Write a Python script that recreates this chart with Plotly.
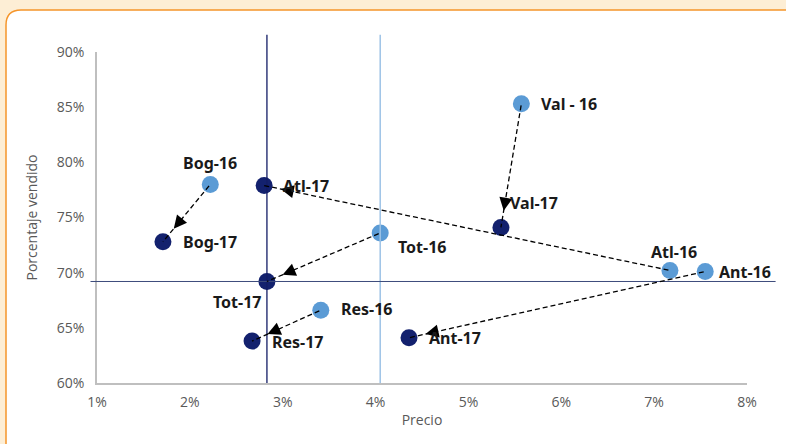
import plotly.graph_objects as go

# Regional price change vs. share of units sold, 2016 -> 2017
regions = ["Val", "Bog", "Atl", "Tot", "Res", "Ant"]
labels_16 = ["Val - 16", "Bog-16", "Atl-16", "Tot-16", "Res-16", "Ant-16"]
labels_17 = ["Val-17", "Bog-17", "Atl-17", "Tot-17", "Res-17", "Ant-17"]
price_16 = [5.57, 2.22, 7.17, 4.05, 3.41, 7.55]
sold_16 = [85.3, 78.0, 70.2, 73.6, 66.6, 70.1]
price_17 = [5.35, 1.71, 2.80, 2.83, 2.67, 4.36]
sold_17 = [74.1, 72.8, 77.9, 69.2, 63.8, 64.1]

x_ticks = [1, 2, 3, 4, 5, 6, 7, 8]
y_ticks = [60, 65, 70, 75, 80, 85, 90]

LIGHT = "#5b9bd5"
DARK = "#13216e"
LABEL_FONT = dict(family="'Noto Sans', Arial, sans-serif", size=16, color="#1a1a1a", weight="bold")

# label placement per region: (xanchor, xshift, yshift)
place_16 = {"Val": ("left", 18, 0), "Bog": ("center", 0, 21), "Atl": ("center", 4, 18),
            "Tot": ("left", 16, -14), "Res": ("left", 18, 1), "Ant": ("left", 12, 0)}
place_17 = {"Val": ("left", 7, 24), "Bog": ("left", 18, 0), "Atl": ("left", 17, 0),
            "Tot": ("right", -4, -21), "Res": ("left", 18, -1), "Ant": ("left", 18, 0)}

fig = go.Figure()

fig.add_trace(go.Scatter(x=price_16, y=sold_16, mode="markers", name="2016",
                         marker=dict(size=17, color=LIGHT, line=dict(width=0)),
                         hovertext=labels_16, cliponaxis=False))
fig.add_trace(go.Scatter(x=price_17, y=sold_17, mode="markers", name="2017",
                         marker=dict(size=17, color=DARK, line=dict(width=0)),
                         hovertext=labels_17, cliponaxis=False))

annotations = []
for i, r in enumerate(regions):
    # dashed arrow from the 2016 position to the 2017 position
    annotations.append(dict(
        x=price_17[i], y=sold_17[i], ax=price_16[i], ay=sold_16[i],
        xref="x", yref="y", axref="x", ayref="y",
        showarrow=True, arrowhead=2, arrowsize=2.0, arrowwidth=1.3,
        arrowcolor="#000000", standoff=17, startstandoff=12, text=""))
    for lab, px, py, place in ((labels_16[i], price_16[i], sold_16[i], place_16[r]),
                               (labels_17[i], price_17[i], sold_17[i], place_17[r])):
        xa, xs, ys = place
        annotations.append(dict(
            x=px, y=py, xref="x", yref="y", text=lab, showarrow=False,
            xanchor=xa, yanchor="middle", xshift=xs, yshift=ys, font=LABEL_FONT))

tot = regions.index("Tot")
shapes = [
    # white card with orange rounded border
    dict(type="path", xref="paper", yref="paper", xsizemode="pixel", ysizemode="pixel",
         xanchor=0, yanchor=1, layer="below",
         path="M -91,-420 L -91,27 Q -91,42 -76,42 L 720,42 L 720,-420 Z",
         fillcolor="#ffffff", line=dict(color="#f5952a", width=1.5)),
    # reference lines at the total values
    dict(type="line", xref="x", yref="paper", x0=price_17[tot], x1=price_17[tot], y0=0, y1=1.052,
         line=dict(color="#121d66", width=1.3)),
    dict(type="line", xref="x", yref="paper", x0=price_16[tot], x1=price_16[tot], y0=0, y1=1.052,
         line=dict(color="#9dc3e6", width=1.5)),
    dict(type="line", xref="paper", yref="y", x0=-0.01, x1=1.044, y0=sold_17[tot], y1=sold_17[tot],
         line=dict(color="#3d4b7c", width=1)),
]

tick_font = dict(family="'Open Sans', sans-serif", size=14, color="#595959")

fig.update_layout(
    width=786, height=444,
    margin=dict(l=97, r=39, t=52, b=61),
    paper_bgcolor="#fdeed5",
    plot_bgcolor="rgba(0,0,0,0)",
    showlegend=False,
    annotations=annotations,
    shapes=shapes,
    xaxis=dict(range=[1, 8], tickvals=x_ticks, ticktext=[f"{v}%" for v in x_ticks],
               showgrid=False, zeroline=False, showline=True, linecolor="#bfbfbf", linewidth=1.5,
               ticks="", tickfont=tick_font, ticklabelstandoff=5,
               title=dict(text="Precio", font=tick_font, standoff=6)),
    yaxis=dict(range=[60, 90], tickvals=y_ticks, ticktext=[f"{v}%" for v in y_ticks],
               showgrid=False, zeroline=False, showline=True, linecolor="#bfbfbf", linewidth=1.5,
               ticks="", tickfont=tick_font, ticklabelstandoff=8,
               title=dict(text="Porcentaje vendido", font=tick_font, standoff=16)),
)

# dash the arrow shafts (arrowheads are filled paths with no stroke)
dash_js = """
var gd = document.getElementById('{plot_id}');
gd.querySelectorAll('.annotation-arrow-g path').forEach(function(p){
  p.style.strokeDasharray = '5px,3px';
});
"""

fig.write_html("out.html", post_script=dash_js)
